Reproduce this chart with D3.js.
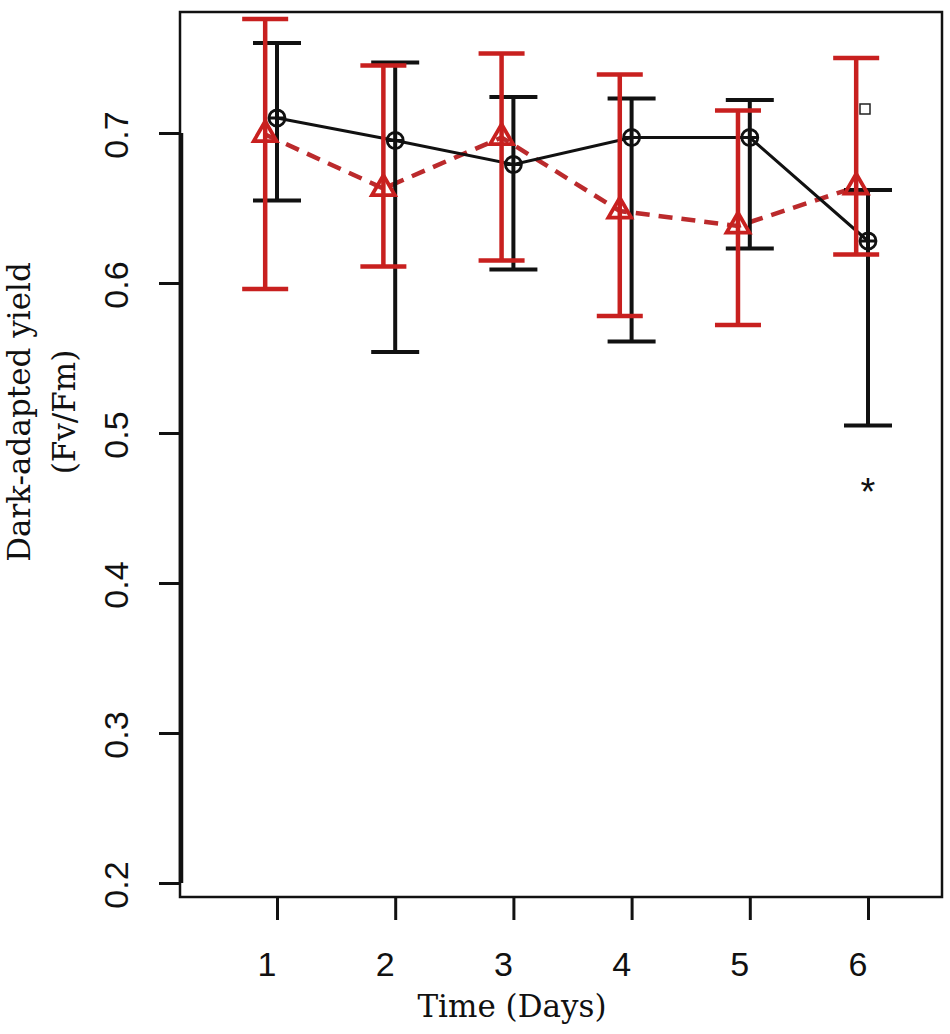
<!DOCTYPE html>
<html>
<head>
<meta charset="utf-8">
<script src="https://cdn.jsdelivr.net/npm/d3@7"></script>
<style>
  html, body { margin: 0; padding: 0; background: #fff; }
  svg { display: block; }
</style>
</head>
<body>
<svg id="chart" width="950" height="1034"></svg>
<script>
// ---- data ----
const days = [1, 2, 3, 4, 5, 6];
const blackMean  = [0.710, 0.695, 0.679, 0.697, 0.697, 0.628];
const blackUpper = [0.760, 0.747, 0.724, 0.723, 0.722, 0.662];
const blackLower = [0.655, 0.554, 0.609, 0.561, 0.623, 0.505];
const redMean  = [0.699, 0.663, 0.697, 0.648, 0.638, 0.664];
const redUpper = [0.776, 0.745, 0.753, 0.739, 0.715, 0.750];
const redLower = [0.596, 0.611, 0.615, 0.578, 0.572, 0.619];
const yTicks = [0.2, 0.3, 0.4, 0.5, 0.6, 0.7];
const xTicks = [1, 2, 3, 4, 5, 6];
const squareMark = { day: 6, value: 0.716 };
const starMark = { day: 6, value: 0.467 };
const redOffset = -0.1; // red series drawn slightly left of each day

// ---- layout ----
const svg = d3.select("#chart");
const box = { left: 180, right: 942, top: 12, bottom: 897 };
const x = d3.scaleLinear().domain([1, 6]).range([277, 868]);
const y = d3.scaleLinear().domain([0.2, 0.7]).range([883, 133]);

const BLACK = "#111";
const RED = "#c8201f";
const RED_LINE = "#bb2a2c";

// plot frame
svg.append("rect")
  .attr("x", box.left).attr("y", box.top)
  .attr("width", box.right - box.left).attr("height", box.bottom - box.top)
  .attr("fill", "none").attr("stroke", BLACK).attr("stroke-width", 2.5);

// y axis (R-style, line only from first to last tick)
const yAxis = svg.append("g").attr("transform", `translate(${box.left + 1},0)`)
  .call(d3.axisLeft(y).tickValues(yTicks).tickSize(22).tickFormat(""));
yAxis.select(".domain").remove();
yAxis.selectAll(".tick line").attr("stroke", BLACK).attr("stroke-width", 3);
svg.append("line")
  .attr("x1", box.left + 1).attr("x2", box.left + 1)
  .attr("y1", y(yTicks[0])).attr("y2", y(yTicks[yTicks.length - 1]))
  .attr("stroke", BLACK).attr("stroke-width", 4.5);
// rotated y tick labels
svg.append("g").selectAll("text").data(yTicks).join("text")
  .attr("transform", d => `translate(128,${y(d) + 2}) rotate(-90)`)
  .attr("text-anchor", "middle")
  .attr("font-family", "Liberation Sans, Arial, sans-serif")
  .attr("font-size", 34)
  .attr("fill", BLACK)
  .text(d => d.toFixed(1));

// x axis ticks
const xAxis = svg.append("g").attr("transform", `translate(0,${box.bottom})`)
  .call(d3.axisBottom(x).tickValues(xTicks).tickSize(23).tickFormat(""));
xAxis.select(".domain").remove();
xAxis.selectAll(".tick line").attr("stroke", BLACK).attr("stroke-width", 3);
svg.append("g").selectAll("text").data(xTicks).join("text")
  .attr("x", d => x(d) - 10).attr("y", 976)
  .attr("text-anchor", "middle")
  .attr("font-family", "Liberation Sans, Arial, sans-serif")
  .attr("font-size", 34)
  .attr("fill", BLACK)
  .text(d => d);

// axis titles
svg.append("text")
  .attr("x", 512).attr("y", 1017)
  .attr("text-anchor", "middle")
  .attr("font-family", "DejaVu Serif, serif")
  .attr("font-size", 31)
  .attr("fill", BLACK)
  .text("Time (Days)");
const yTitle = svg.append("text")
  .attr("transform", "translate(0,412) rotate(-90)")
  .attr("text-anchor", "middle")
  .attr("font-family", "DejaVu Serif, serif")
  .attr("font-size", 31)
  .attr("fill", BLACK);
yTitle.append("tspan").attr("x", 0).attr("y", 30).text("Dark-adapted yield");
yTitle.append("tspan").attr("x", 0).attr("y", 75).text("(Fv/Fm)");

// ---- series ----
const black = days.map((d, i) => ({ x: x(d), m: blackMean[i], lo: blackLower[i], hi: blackUpper[i] }));
const red = days.map((d, i) => ({ x: x(d + redOffset), m: redMean[i], lo: redLower[i], hi: redUpper[i] }));

const line = d3.line().x(d => d.x).y(d => y(d.m));

// red dashed line
svg.append("path").datum(red)
  .attr("d", line).attr("fill", "none")
  .attr("stroke", RED_LINE).attr("stroke-width", 4.5)
  .attr("stroke-dasharray", "14,9");
// black solid line
svg.append("path").datum(black)
  .attr("d", line).attr("fill", "none")
  .attr("stroke", BLACK).attr("stroke-width", 3);

function errorBars(data, color, capHalf, width) {
  const g = svg.append("g");
  g.selectAll("line.v").data(data).join("line")
    .attr("x1", d => d.x).attr("x2", d => d.x)
    .attr("y1", d => y(d.lo)).attr("y2", d => y(d.hi))
    .attr("stroke", color).attr("stroke-width", width);
  ["lo", "hi"].forEach(k => {
    g.selectAll("line.c" + k).data(data).join("line")
      .attr("x1", d => d.x - capHalf).attr("x2", d => d.x + capHalf)
      .attr("y1", d => y(d[k])).attr("y2", d => y(d[k]))
      .attr("stroke", color).attr("stroke-width", width);
  });
}
errorBars(black, BLACK, 24, 4);
errorBars(red, RED, 23, 4.5);

// black markers: circle with plus (R pch 10)
const cr = 8;
const cg = svg.append("g");
cg.selectAll("circle").data(black).join("circle")
  .attr("cx", d => d.x).attr("cy", d => y(d.m)).attr("r", cr)
  .attr("fill", "none").attr("stroke", BLACK).attr("stroke-width", 2.8);
cg.selectAll("path").data(black).join("path")
  .attr("d", d => `M${d.x - cr},${y(d.m)}H${d.x + cr}M${d.x},${y(d.m) - cr}V${y(d.m) + cr}`)
  .attr("stroke", BLACK).attr("stroke-width", 2.8);

// red markers: open triangles (R pch 2)
const tr = 8.5;
svg.append("g").selectAll("path").data(red).join("path")
  .attr("d", d => {
    const cx = d.x, cy = y(d.m);
    return `M${cx},${cy - tr * 1.555}L${cx + tr * 1.347},${cy + tr * 0.778}L${cx - tr * 1.347},${cy + tr * 0.778}Z`;
  })
  .attr("fill", "none").attr("stroke", RED).attr("stroke-width", 3.8)
  .attr("stroke-linejoin", "miter");

// annotations
svg.append("rect")
  .attr("x", x(squareMark.day) - 3 - 5).attr("y", y(squareMark.value) - 5)
  .attr("width", 10).attr("height", 10)
  .attr("fill", "none").attr("stroke", "#222").attr("stroke-width", 1.5);
svg.append("text")
  .attr("x", x(starMark.day)).attr("y", y(starMark.value) + 22)
  .attr("text-anchor", "middle")
  .attr("font-family", "Liberation Sans, Arial, sans-serif")
  .attr("font-size", 38)
  .attr("fill", BLACK)
  .text("*");
</script>
</body>
</html>
